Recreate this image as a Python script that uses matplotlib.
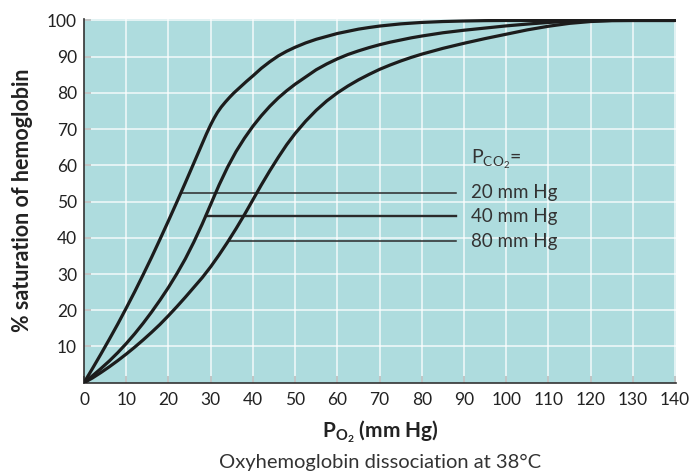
import matplotlib
matplotlib.use('Agg')
import matplotlib.pyplot as plt

plt.rcParams['font.family'] = ['Lato', 'DejaVu Sans']
plt.rcParams['mathtext.fontset'] = 'custom'
plt.rcParams['mathtext.rm'] = 'Lato'
plt.rcParams['mathtext.bf'] = 'Lato:bold'
plt.rcParams['mathtext.default'] = 'regular'

# PCO2 = 20 mm Hg
po2_20 = [0, 2, 4, 6, 8, 10, 12, 14, 16, 18, 20, 22, 24, 26, 28, 29, 30, 30.8, 31.6, 32.5, 33.5, 34.5, 35.5,
          37, 38.5, 40, 42, 44, 46, 48, 50, 52.5, 55, 57.5, 60, 62.5, 65, 67.5, 70, 75, 80, 85, 90, 95, 100, 140]
sat_20 = [0, 3.9, 7.9, 12.0, 16.2, 20.6, 25.1, 29.8, 34.6, 39.6, 44.7, 49.9, 55.2, 60.6, 66.0, 68.7, 71.2, 73.0, 74.6, 76.1, 77.5, 78.8, 80.0,
          81.6, 83.2, 84.7, 86.8, 88.6, 90.2, 91.5, 92.6, 93.8, 94.8, 95.6, 96.4, 97.0, 97.6, 98.05, 98.45, 99.05, 99.45, 99.7, 99.85, 99.95, 100, 100]

# PCO2 = 40 mm Hg
po2_40 = [0, 2, 4, 6, 8, 10, 12, 14, 16, 18, 20, 22, 24, 26, 28, 30, 32, 34, 36, 38, 40, 42, 44, 46, 48, 50,
          52.5, 55, 57.5, 60, 62.5, 65, 67.5, 70, 72.5, 75, 77.5, 80, 85, 90, 95, 100, 105, 110, 115, 120, 125, 140]
sat_40 = [0, 1.9, 3.9, 6.0, 8.3, 10.8, 13.5, 16.4, 19.5, 22.8, 26.3, 30.1, 34.2, 38.8, 43.8, 49.2, 54.6, 59.5, 63.8, 67.5, 70.8, 73.7, 76.3, 78.6, 80.6, 82.4,
          84.4, 86.4, 88.0, 89.4, 90.6, 91.6, 92.5, 93.3, 94.0, 94.6, 95.2, 95.7, 96.6, 97.3, 97.9, 98.5, 99.0, 99.45, 99.75, 99.92, 100, 100]

# PCO2 = 80 mm Hg
po2_80 = [0, 2, 4, 6, 8, 10, 12, 14, 16, 18, 20, 22, 24, 26, 28, 30, 32, 34, 36, 38, 40, 42, 44, 46, 48, 50,
          52.5, 55, 57.5, 60, 62.5, 65, 67.5, 70, 72.5, 75, 77.5, 80, 85, 90, 95, 100, 105, 110, 115, 120, 125, 130, 140]
sat_80 = [0, 1.3, 2.8, 4.4, 6.1, 7.9, 9.8, 11.8, 13.9, 16.1, 18.5, 21.0, 23.6, 26.3, 29.0, 32.0, 35.3, 38.8, 42.5, 46.4, 50.5, 54.6, 58.5, 62.2, 65.7, 68.8,
          72.2, 75.2, 77.8, 80.0, 81.9, 83.6, 85.1, 86.5, 87.7, 88.8, 89.8, 90.7, 92.3, 93.7, 95.0, 96.2, 97.4, 98.4, 99.2, 99.7, 99.95, 100, 100]

# 标注线
label_names = ['20 mm Hg', '40 mm Hg', '80 mm Hg']
label_y = [52.5, 46, 39]
label_x0 = [23.1, 28.8, 34.3]
label_x1 = 88.2
label_width = [1.1, 1.7, 1.1]

xticks = list(range(0, 141, 10))
yticks = list(range(10, 101, 10))

fig = plt.figure(figsize=(6.95, 4.74), dpi=100)
ax = fig.add_axes([84/695, 1-382.7/474, 592/695, (382.7-19)/474])
ax.set_facecolor('#aedcde')

for x in range(10, 141, 10):
    ax.axvline(x, color='white', lw=1.1, alpha=0.85, zorder=1)
for y in range(10, 101, 10):
    ax.axhline(y, color='white', lw=1.1, alpha=0.85, zorder=1)

for xs, ys in [(po2_20, sat_20), (po2_40, sat_40), (po2_80, sat_80)]:
    ax.plot(xs, ys, color='#1c1c1c', lw=2.3, solid_capstyle='round', solid_joinstyle='round', zorder=3)

for name, y, x0, w in zip(label_names, label_y, label_x0, label_width):
    ax.plot([x0, label_x1], [y, y], color='#2a2a2a', lw=w, zorder=2)
    ax.text(91.7, y, name, fontsize=13.5, color='#333333', va='center', ha='left')
ax.text(91.7, 61.5, r'P$_{CO_2}$=', fontsize=14, color='#333333', va='center', ha='left')

ax.set_xlim(0, 140.2)
ax.set_ylim(0, 100.4)
ax.set_xticks(xticks)
ax.set_yticks(yticks)
ax.tick_params(direction='in', length=5, width=1.1, color='#333333', labelsize=12.5, labelcolor='#222222')
ax.tick_params(axis='x', pad=7)
ax.tick_params(axis='y', pad=5)
for s in ['top', 'right']:
    ax.spines[s].set_visible(False)
for s in ['left', 'bottom']:
    ax.spines[s].set_color('#333333')
    ax.spines[s].set_linewidth(1.2)
ax.set_axisbelow(True)

fig.text(23/695, 1-200/474, '% saturation of hemoglobin', rotation=90, ha='center', va='center',
         fontsize=15.5, fontweight='bold', color='#222222')
fig.text(380/695, 1-432/474, r'$\mathbf{P_{O_2}}$ (mm Hg)', ha='center', va='center',
         fontsize=15, fontweight='bold', color='#222222')
fig.text(380/695, 1-462/474, 'Oxyhemoglobin dissociation at 38°C', ha='center', va='center',
         fontsize=14.5, color='#333333')

fig.savefig('out.png', dpi=100)
